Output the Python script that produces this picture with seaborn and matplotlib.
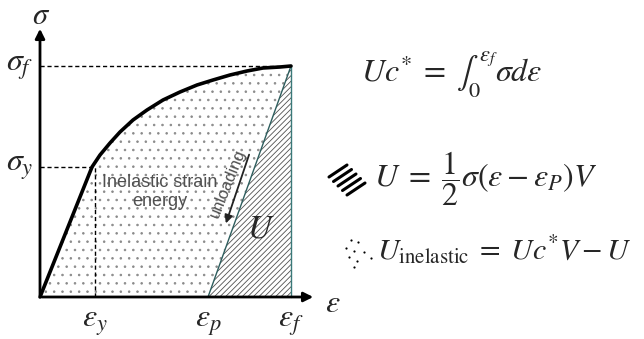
#!/usr/bin/env python
# coding: utf-8
#
import seaborn as sb
from matplotlib import pyplot as plt
import pandas as pd
import numpy as np

# stress-strain curve (arbitrary units)
strain = [0, 26, 52, 60, 70, 80, 93, 107, 123, 140, 157, 173, 190, 207, 223, 240, 251]
stress = [0, 65, 130, 142, 154, 165, 177, 187, 197, 205, 212, 217, 222, 226, 229, 230, 231]
eps_y, eps_p, eps_f = 55, 168, 251
sig_y, sig_f = 130, 231

sb.set_style('white')
plt.rcParams['mathtext.fontset'] = 'stix'
plt.rcParams['hatch.linewidth'] = 0.6
#
df = pd.DataFrame({'strain': strain, 'stress': stress})
#
fig = plt.figure(figsize=(6.44, 3.39), dpi=100)
ax = fig.add_axes([0, 0, 1, 1])
ax.set_xlim(-40, 604)
ax.set_ylim(-42, 297)
ax.axis('off')
#
# inelastic area (dots) and elastic triangle (hatch)
ax.fill_between(df['strain'], df['stress'], 0, facecolor='white',
                edgecolor='#8a8a8a', hatch='..', linewidth=0, zorder=1)
ax.fill_between([eps_p, eps_f], [0, sig_f], 0, facecolor='white',
                edgecolor='#505050', hatch='//////', linewidth=0, zorder=2)
ax.plot([eps_p, eps_f], [0, sig_f], color='#2e5e5e', lw=1.0, zorder=3)
ax.plot([eps_f, eps_f], [0, sig_f], color='#3a7a7a', lw=1.0, zorder=3)
#
# dashed guides
ax.plot([0, eps_f], [sig_f, sig_f], ls=(0, (3, 2)), color='black', lw=1.0, zorder=3)
ax.plot([0, eps_y], [sig_y, sig_y], ls=(0, (3, 2)), color='black', lw=1.0, zorder=3)
ax.plot([eps_y, eps_y], [0, sig_y], ls=(0, (3, 2)), color='black', lw=1.0, zorder=3)
#
sb.lineplot(data=df, x='strain', y='stress', sort=False, color='black',
            lw=2.6, ax=ax, zorder=4)
#
# axes arrows
ax.annotate('', xy=(0, 271), xytext=(0, -1),
            arrowprops=dict(arrowstyle='-|>', color='black', lw=2.0, mutation_scale=14))
ax.annotate('', xy=(276, 0), xytext=(-1, 0),
            arrowprops=dict(arrowstyle='-|>', color='black', lw=2.0, mutation_scale=14))
#
# labels
mfs = 23
ax.text(1, 282, r'$\sigma$', fontsize=mfs - 1, ha='center', va='center')
ax.text(293, -6, r'$\varepsilon$', fontsize=mfs, ha='center', va='center')
ax.text(-20, sig_f, r'$\sigma_f$', fontsize=mfs, ha='center', va='center')
ax.text(-20, sig_y, r'$\sigma_y$', fontsize=mfs, ha='center', va='center')
ax.text(eps_y, -25, r'$\varepsilon_y$', fontsize=mfs, ha='center', va='center')
ax.text(eps_p, -25, r'$\varepsilon_p$', fontsize=mfs, ha='center', va='center')
ax.text(eps_f, -25, r'$\varepsilon_f$', fontsize=mfs, ha='center', va='center')
ax.text(221, 69, r'$U$', fontsize=24, ha='center', va='center', zorder=5)
#
ax.text(120, 105, 'Inelastic strain\nenergy', fontsize=13, color='#505050',
        family='Liberation Sans', ha='center', va='center', linespacing=1.1, zorder=5)
ax.text(188, 114, 'unloading', fontsize=12, color='#505050', family='Liberation Sans',
        rotation=68, ha='center', va='center', rotation_mode='anchor', zorder=5)
ax.annotate('', xy=(185, 71), xytext=(210, 145),
            arrowprops=dict(arrowstyle='-|>', color='#222222', lw=1.3, mutation_scale=12),
            zorder=5)
#
# equations
efs = 23
ax.text(321, 215, r'$Uc^{*}\;=\;\int_0^{\varepsilon_f}\sigma d\varepsilon$', fontsize=efs,
        ha='left', va='baseline')
ax.text(334, 110, r'$U\;=\;\dfrac{1}{2}\sigma(\varepsilon-\varepsilon_P)V$', fontsize=efs,
        ha='left', va='baseline')
ax.text(337, 37, r'$U_{\mathrm{inelastic}}\;=\;Uc^{*}V-U$', fontsize=efs - 1.5,
        ha='left', va='baseline')
#
# legend glyphs next to the equations
for i in range(5):
    x0, y0 = 289 + 4.5 * i, 120 - 4.5 * i
    ax.plot([x0, x0 + 18], [y0, y0 + 12], color='black', lw=2.2, solid_capstyle='round')
dots_x = [311, 318, 306, 314, 324, 309, 317, 331, 314]
dots_y = [57, 55, 49, 46, 45, 40, 36, 39, 30]
ax.scatter(dots_x, dots_y, s=2.5, color='black', linewidths=0)
#
fig.savefig('out.png', dpi=100)
